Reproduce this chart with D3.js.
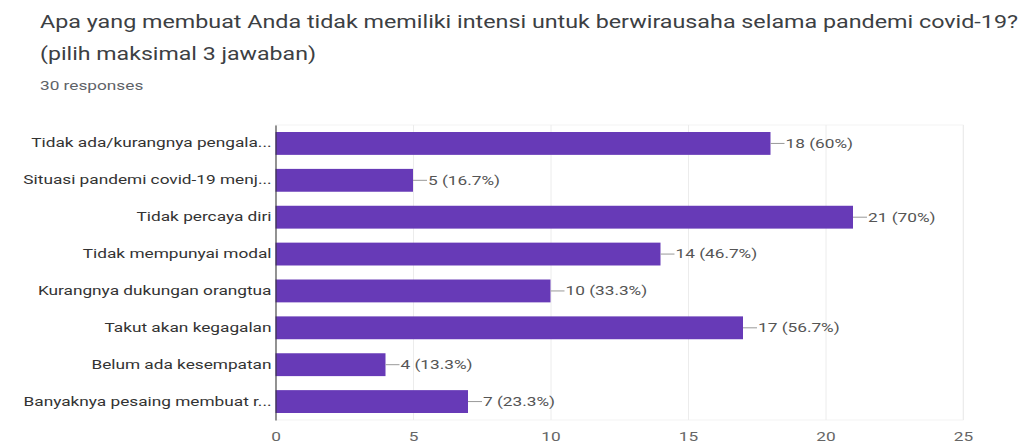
<!DOCTYPE html>
<html>
<head>
<meta charset="utf-8">
<script src="https://cdn.jsdelivr.net/npm/d3@7"></script>
<style>
body { margin: 0; background: #fff; }
text { font-family: Roboto, "Noto Sans", sans-serif; }
</style>
</head>
<body>
<svg id="chart" width="1028" height="448"></svg>
<script>
var categories = [
  "Tidak ada/kurangnya pengala...",
  "Situasi pandemi covid-19 menj...",
  "Tidak percaya diri",
  "Tidak mempunyai modal",
  "Kurangnya dukungan orangtua",
  "Takut akan kegagalan",
  "Belum ada kesempatan",
  "Banyaknya pesaing membuat r..."
];
var counts = [18, 5, 21, 14, 10, 17, 4, 7];
var percents = ["60%", "16.7%", "70%", "46.7%", "33.3%", "56.7%", "13.3%", "23.3%"];
var xTicks = [0, 5, 10, 15, 20, 25];

var margin = {top: 125, right: 65, bottom: 28, left: 275.5},
width = 1028 - margin.left - margin.right,
height = 448 - margin.top - margin.bottom;

// the picture is a bit wide: text is stretched sideways
var sx = 1.38;
function stretch(sel) {
    sel.attr("transform", function() {
        var x0 = +d3.select(this).attr("x") || 0;
        return "translate(" + x0 + ",0) scale(" + sx + ",1) translate(" + (-x0) + ",0)";
    });
}

var svg = d3.select("#chart");

// title block
svg.append("text")
.attr("x", 40).attr("y", 28)
.attr("font-size", 19).attr("fill", "#3c4043")
.attr("textLength", 978).attr("lengthAdjust", "spacingAndGlyphs")
.text("Apa yang membuat Anda tidak memiliki intensi untuk berwirausaha selama pandemi covid-19?");
svg.append("text")
.attr("x", 40).attr("y", 60)
.attr("font-size", 19).attr("fill", "#3c4043")
.attr("textLength", 276).attr("lengthAdjust", "spacingAndGlyphs")
.text("(pilih maksimal 3 jawaban)");
svg.append("text")
.attr("x", 40).attr("y", 90)
.attr("font-size", 12.5).attr("fill", "#5f6368")
.text("30 responses")
.call(stretch);

var x = d3.scaleLinear()
.domain([0, 25])
.range([0, width]);

var y = d3.scaleBand()
.domain(categories)
.range([0, height])
.paddingInner(0.38)
.paddingOuter(0.19);

var g = svg.append("g")
.attr("transform", "translate(" + margin.left + "," + margin.top + ")");

// faint frame + grid
g.append("rect")
.attr("x", 0).attr("y", 0)
.attr("width", width).attr("height", height)
.attr("fill", "none").attr("stroke", "#f3f3f3");

g.append("g")
.attr("class", "grid")
.call(d3.axisBottom(x)
    .tickValues(xTicks)
    .tickSize(height)
    .tickFormat(function() { return null; }))
.call(function(s) {
    s.select(".domain").remove();
    s.selectAll("line").attr("stroke", "#ececec");
});

g.selectAll(".bar")
.data(counts)
.enter().append("rect")
.attr("class", "bar")
.attr("x", 0)
.attr("y", function(d, i) { return y(categories[i]); })
.attr("width", function(d) { return x(d); })
.attr("height", y.bandwidth())
.attr("fill", "#673ab7");

// value labels with leader line
var lab = g.selectAll(".val")
.data(counts)
.enter().append("g")
.attr("class", "val")
.attr("transform", function(d, i) {
    return "translate(" + x(d) + "," + (y(categories[i]) + y.bandwidth() / 2) + ")";
});
lab.append("line")
.attr("x1", 0).attr("x2", 14)
.attr("stroke", "#999").attr("stroke-width", 1);
lab.append("text")
.attr("x", 15).attr("dy", "0.35em")
.attr("font-size", 12.5).attr("fill", "#555")
.text(function(d, i) { return d + " (" + percents[i] + ")"; })
.call(stretch);

// y axis
g.append("g")
.call(d3.axisLeft(y).tickSize(0).tickPadding(4))
.call(function(s) {
    s.select(".domain").attr("stroke", "#333");
    s.selectAll("text")
    .attr("font-size", 12.5)
    .attr("fill", "#333")
    .style("font-family", "Roboto, sans-serif")
    .call(stretch);
});

// x tick labels
g.append("g")
.attr("transform", "translate(0," + height + ")")
.call(d3.axisBottom(x).tickValues(xTicks).tickSize(0).tickPadding(12))
.call(function(s) {
    s.select(".domain").remove();
    s.selectAll("text")
    .attr("font-size", 12.5)
    .attr("fill", "#666")
    .style("font-family", "Roboto, sans-serif")
    .call(stretch);
});
</script>
</body>
</html>
